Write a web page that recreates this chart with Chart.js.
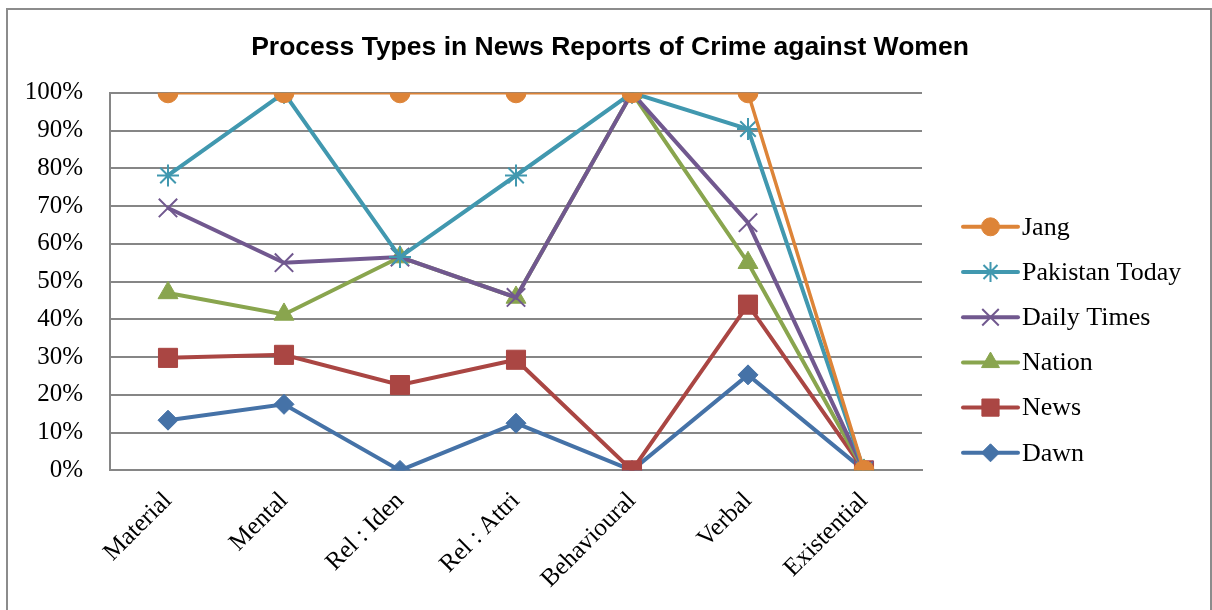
<!DOCTYPE html>
<html>
<head>
<meta charset="utf-8">
<script src="https://cdn.jsdelivr.net/npm/chart.js@4/dist/chart.umd.min.js"></script>
<style>
  html, body { margin: 0; padding: 0; background: #fff; }
  #wrap { position: relative; width: 1212px; height: 610px; }
  #frame { position: absolute; left: 6px; top: 8px; width: 1202px; height: 600px; border: 2px solid #8c8c8c; pointer-events: none; }
</style>
</head>
<body>
<div id="wrap">
  <canvas id="processChart" width="1212" height="610"></canvas>
  <div id="frame"></div>
</div>
<script>
const categories = ["Material", "Mental", "Rel : Iden", "Rel : Attri", "Behavioural", "Verbal", "Existential"]
const yTicks = [0, 10, 20, 30, 40, 50, 60, 70, 80, 90, 100]

// values in percent
const jang = [100, 100, 100, 100, 100, 100, 0]
const pakistanToday = [78.1, 100, 56.5, 78.1, 100, 90.4, 0]
const dailyTimes = [69.5, 55, 56.5, 45.8, 100, 65.6, 0]
const nation = [47, 41.3, 56.5, 45.8, 100, 55, 0]
const news = [29.8, 30.6, 22.6, 29.3, 0, 43.9, 0]
const dawn = [13.3, 17.5, 0, 12.5, 0, 25.3, 0]

const serif = "'Liberation Serif', 'Times New Roman', serif"

const series = [
  { label: "Jang", data: jang, color: "#DD8438", style: "circle", radius: 10, width: 3.5 },
  { label: "Pakistan Today", data: pakistanToday, color: "#4198AF", style: "star", radius: 11, width: 4 },
  { label: "Daily Times", data: dailyTimes, color: "#71588F", style: "crossRot", radius: 13, width: 4 },
  { label: "Nation", data: nation, color: "#89A54E", style: "triangle", radius: 11.5, width: 4 },
  { label: "News", data: news, color: "#AA4643", style: "rect", radius: 13.5, width: 4 },
  { label: "Dawn", data: dawn, color: "#4572A7", style: "rectRot", radius: 10, width: 4 },
]

// legend with a line through the marker, like the office chart
const sideLegend = {
  id: "sideLegend",
  afterDraw(chart, args, opts) {
    const ctx = chart.ctx
    const area = chart.chartArea
    const x0 = area.right + opts.offsetX
    ctx.save()
    chart.data.datasets.forEach((ds, i) => {
      const y = area.top + opts.offsetY + i * opts.rowGap
      ctx.strokeStyle = ds.borderColor
      ctx.fillStyle = ds.borderColor
      ctx.lineWidth = 4
      ctx.lineCap = "round"
      ctx.beginPath()
      ctx.moveTo(x0, y)
      ctx.lineTo(x0 + opts.lineLength, y)
      ctx.stroke()
      ctx.lineCap = "butt"
      ctx.lineWidth = ds.pointBorderWidth
      Chart.helpers.drawPoint(ctx, { pointStyle: ds.pointStyle, radius: ds.pointRadius * 0.9, rotation: 0, borderWidth: ds.pointBorderWidth }, x0 + opts.lineLength / 2, y)
      ctx.fillStyle = "#000"
      ctx.font = opts.font
      ctx.textAlign = "left"
      ctx.textBaseline = "middle"
      ctx.fillText(ds.label, x0 + opts.lineLength + 4, y + 1)
    })
    ctx.restore()
  },
}

new Chart(document.getElementById("processChart"), {
  type: "line",
  data: {
    labels: categories,
    datasets: series.map((s) => ({
      label: s.label,
      data: s.data,
      borderColor: s.color,
      backgroundColor: s.color,
      borderWidth: s.width,
      tension: 0,
      pointStyle: s.style,
      pointRadius: s.radius,
      pointHoverRadius: s.radius,
      pointBorderWidth: s.style === "star" || s.style === "crossRot" ? 2 : 1,
      pointBackgroundColor: s.color,
      pointBorderColor: s.color,
    })),
  },
  options: {
    responsive: false,
    animation: false,
    layout: { padding: { left: 25, right: 17, top: 0, bottom: 8 } },
    plugins: {
      legend: { display: false },
      tooltip: { enabled: false },
      title: {
        display: true,
        text: "Process Types in News Reports of Crime against Women",
        color: "#000",
        font: { family: "'Liberation Sans', Arial, sans-serif", size: 26.5, weight: "bold" },
        padding: { top: 32, bottom: 29 },
      },
      sideLegend: {
        offsetX: 41,
        offsetY: 134,
        rowGap: 45.2,
        lineLength: 55,
        font: "26px " + serif,
      },
    },
    scales: {
      x: {
        offset: true,
        grid: { display: false },
        border: { display: true, color: "#868686", width: 2 },
        ticks: {
          color: "#000",
          font: { family: serif, size: 25 },
          minRotation: 45,
          maxRotation: 45,
          padding: 8,
        },
        // let the rotated first label hang past the value axis
        afterFit: (axis) => {
          axis.paddingLeft = 0
          axis.paddingRight = 0
        },
      },
      y: {
        min: 0,
        max: 100,
        afterBuildTicks: (axis) => {
          axis.ticks = yTicks.map((v) => ({ value: v }))
        },
        afterFit: (axis) => {
          axis.width = 85
        },
        grid: { color: "#868686", lineWidth: 2, drawTicks: false },
        border: { display: true, color: "#868686", width: 2 },
        ticks: {
          color: "#000",
          font: { family: serif, size: 25 },
          padding: 27,
          callback: (value) => value + "%",
        },
      },
      // empty room on the right for the legend
      legendSpace: {
        type: "linear",
        position: "right",
        grid: { display: false },
        border: { display: false },
        ticks: { display: false },
        afterFit: (axis) => {
          axis.width = 273
        },
      },
    },
  },
  plugins: [sideLegend],
})
</script>
</body>
</html>
